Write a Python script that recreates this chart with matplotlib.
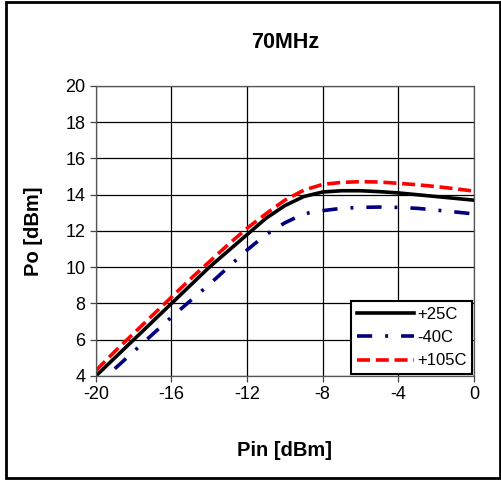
import matplotlib
matplotlib.use("Agg")
import matplotlib.pyplot as plt
from matplotlib.patches import Rectangle

plt.rcParams['font.family'] = ['Liberation Sans', 'DejaVu Sans']
plt.rcParams['axes.unicode_minus'] = False

# Pin [dBm] and Po [dBm]
pin = [-20, -19, -18, -17, -16, -15, -14, -13, -12, -11, -10, -9, -8,
       -7, -6, -5, -4, -3, -2, -1, 0]
po_25 = [4.0, 5.0, 6.0, 7.0, 8.0, 9.0, 10.0, 10.9, 11.8, 12.7, 13.4, 13.9, 14.15,
         14.22, 14.22, 14.17, 14.1, 14.0, 13.9, 13.8, 13.7]
po_105 = [4.3, 5.35, 6.35, 7.35, 8.35, 9.35, 10.3, 11.25, 12.15, 12.95, 13.7, 14.25, 14.57,
          14.68, 14.72, 14.7, 14.63, 14.55, 14.45, 14.33, 14.2]
pin_m40 = [-19, -18, -17, -16, -15, -14, -13, -12, -11, -10, -9, -8,
           -7, -6, -5, -4, -3, -2, -1, 0]
po_m40 = [4.4, 5.35, 6.3, 7.25, 8.15, 9.05, 10.0, 10.95, 11.8, 12.45, 12.95, 13.12,
          13.25, 13.3, 13.32, 13.3, 13.25, 13.15, 13.05, 12.94]

fig = plt.figure(figsize=(5.02, 4.8), dpi=100)
ax = fig.add_axes([0.191, 0.2167, 0.753, 0.6042])

ax.plot(pin, po_25, color='black', lw=2.6, label='+25C')
ax.plot(pin_m40, po_m40, color='#000080', lw=2.6, dashes=(4.2, 3.6, 0.8, 3.6), label='-40C')
ax.plot(pin, po_105, color='#ff0000', lw=2.6, dashes=(3.6, 1.6), label='+105C')

ax.set_xlim(-20, 0)
ax.set_ylim(4, 20)
ax.set_xticks([-20, -16, -12, -8, -4, 0])
ax.set_yticks([4, 6, 8, 10, 12, 14, 16, 18, 20])
ax.grid(True, color='black', lw=0.9)
ax.tick_params(labelsize=13, length=4, width=0.9, color='#444444')
for s in ax.spines.values():
    s.set_color('#555555')
    s.set_linewidth(0.9)

ax.set_title('70MHz', fontsize=15.5, fontweight='bold', pad=27)
ax.set_xlabel('Pin [dBm]', fontsize=14.5, fontweight='bold', labelpad=27)
ax.set_ylabel('Po [dBm]', fontsize=14.5, fontweight='bold', labelpad=16)

leg = ax.legend(loc='lower right', fontsize=12, frameon=True, fancybox=False,
                edgecolor='black', framealpha=1, borderaxespad=0.1,
                handlelength=3.4, handletextpad=0.2, labelspacing=0.5,
                borderpad=0.35)
leg.get_frame().set_linewidth(1.5)

fig.patches.append(Rectangle((6 / 502, 2 / 480), 494 / 502, 476 / 480,
                             transform=fig.transFigure, fill=False,
                             edgecolor='black', lw=2))

plt.savefig('out.png', dpi=100)
